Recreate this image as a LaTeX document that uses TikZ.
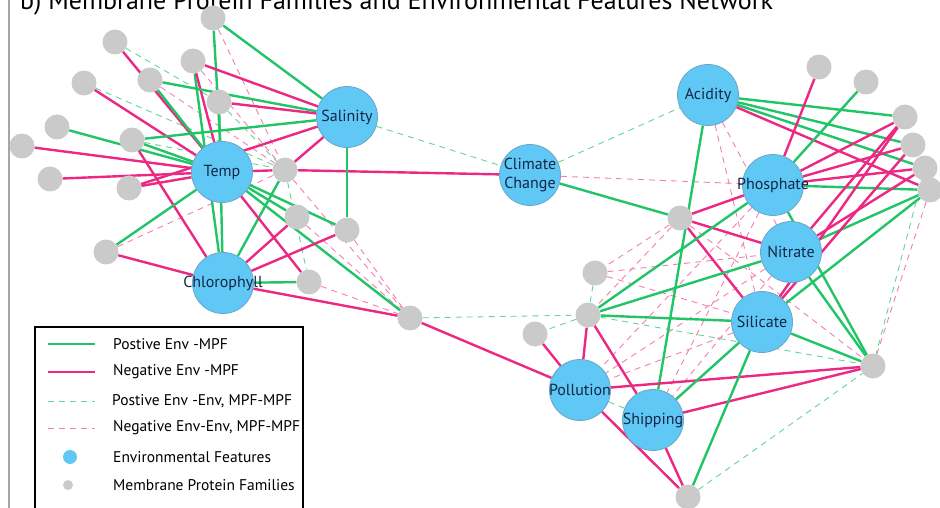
\documentclass[tikz,border=0pt]{standalone}
\usepackage{fontspec}
\setmainfont{PT Sans}
\usetikzlibrary{backgrounds}
\definecolor{posgreen}{RGB}{34,196,104}
\definecolor{negpink}{RGB}{236,40,130}
\definecolor{envblue}{RGB}{95,200,245}
\definecolor{envrim}{RGB}{110,165,200}
\definecolor{mpfgray}{RGB}{202,202,202}
\definecolor{labelnavy}{RGB}{22,38,72}
\tikzset{
  envnode/.style={circle, fill=envblue, draw=envrim, line width=0.8pt, minimum size=61pt, inner sep=0pt},
  envlbl/.style={text=labelnavy, font=\fontsize{16}{20}\selectfont, inner sep=0pt, align=center},
  mpfnode/.style={circle, fill=mpfgray, minimum size=25pt, inner sep=0pt},
  poslink/.style={posgreen, line width=2.4pt},
  neglink/.style={negpink, line width=2.4pt},
  posdash/.style={posgreen!70, line width=0.9pt, dash pattern=on 6pt off 5pt},
  negdash/.style={negpink!60, line width=0.9pt, dash pattern=on 6pt off 5pt},
  legtext/.style={anchor=west, font=\fontsize{15.5}{17}\selectfont, inner sep=0pt}
}
\begin{document}
\begin{tikzpicture}[x=1pt,y=-1pt]
    \useasboundingbox (0,0) rectangle (940,508);

    \node[anchor=base west, font=\fontsize{26}{28}\selectfont, inner sep=0pt] (title) at (20,10) {b) Membrane Protein Families and Environmental Features Network};
    \draw[gray!70, line width=1.5pt] (9,0) -- (9,508);

    \node[envnode, label={[envlbl]center:Salinity}] (sal) at (347,117) {};
    \node[envnode, label={[envlbl]center:Temp}] (temp) at (222,172) {};
    \node[envnode, label={[envlbl]center:Chlorophyll}] (chl) at (223,283) {};
    \node[envnode, label={[envlbl]center:Climate\\Change}] (clim) at (530,175) {};
    \node[envnode, label={[envlbl]center:Acidity}] (acid) at (708,95) {};
    \node[envnode, label={[envlbl]center:Phosphate}] (phos) at (773,185) {};
    \node[envnode, label={[envlbl]center:Nitrate}] (nit) at (791,252) {};
    \node[envnode, label={[envlbl]center:Silicate}] (sil) at (762,322) {};
    \node[envnode, label={[envlbl]center:Pollution}] (poll) at (580,390) {};
    \node[envnode, label={[envlbl]center:Shipping}] (ship) at (653,420) {};

    \node[mpfnode] (m1) at (213,18) {};
    \node[mpfnode] (m2) at (115,42) {};
    \node[mpfnode] (m3) at (193,61) {};
    \node[mpfnode] (m4) at (84,83) {};
    \node[mpfnode] (m5) at (150,80) {};
    \node[mpfnode] (m6) at (219,102) {};
    \node[mpfnode] (m7) at (57,127) {};
    \node[mpfnode] (m8) at (22,146) {};
    \node[mpfnode] (m9) at (132,140) {};
    \node[mpfnode] (m10) at (50,179) {};
    \node[mpfnode] (m11) at (129,188) {};
    \node[mpfnode] (m12) at (285,170) {};
    \node[mpfnode] (m13) at (297,217) {};
    \node[mpfnode] (m14) at (347,230) {};
    \node[mpfnode] (m15) at (106,252) {};
    \node[mpfnode] (m16) at (309,282) {};
    \node[mpfnode] (m17) at (410,318) {};
    \node[mpfnode] (m18) at (819,67) {};
    \node[mpfnode] (m19) at (866,82) {};
    \node[mpfnode] (m20) at (905,117) {};
    \node[mpfnode] (m21) at (913,145) {};
    \node[mpfnode] (m22) at (925,168) {};
    \node[mpfnode] (m23) at (930,190) {};
    \node[mpfnode] (m24) at (680,218) {};
    \node[mpfnode] (m25) at (595,273) {};
    \node[mpfnode] (m26) at (588,315) {};
    \node[mpfnode] (m27) at (535,334) {};
    \node[mpfnode] (m28) at (873,366) {};
    \node[mpfnode] (m29) at (688,497) {};

    \begin{pgfonlayer}{background}
    \fill[white] (0,0) rectangle (940,508);

    \draw[negdash] (m1) -- (m12);
    \draw[negdash] (m3) -- (m12);
    \draw[posdash] (m2) -- (m6);
    \draw[posdash] (m4) -- (m12);
    \draw[negdash] (m5) -- (m12);
    \draw[posdash] (m6) -- (m12);
    \draw[posdash] (m9) -- (m12);
    \draw[negdash] (m15) -- (m12);
    \draw[posdash] (m12) -- (m16);
    \draw[negdash] (m13) -- (m17);
    \draw[negdash] (m16) -- (m17);
    \draw[negdash] (m12) -- (m17);
    \draw[negdash] (m14) -- (m17);
    \draw[posdash] (m17) -- (m26);
    \draw[posdash] (sal) -- (clim);
    \draw[posdash] (clim) -- (acid);
    \draw[negdash] (clim) -- (phos);
    \draw[negdash] (acid) -- (nit);
    \draw[negdash] (acid) -- (sil);
    \draw[negdash] (m24) -- (m26);
    \draw[negdash] (m24) -- (m25);
    \draw[posdash] (m25) -- (m26);
    \draw[posdash] (m26) -- (m27);
    \draw[negdash] (phos) -- (poll);
    \draw[negdash] (nit) -- (poll);
    \draw[negdash] (sil) -- (poll);
    \draw[negdash] (phos) -- (ship);
    \draw[negdash] (nit) -- (ship);
    \draw[negdash] (m25) -- (sil);
    \draw[negdash] (m25) -- (nit);
    \draw[negdash] (m24) -- (m28);
    \draw[posdash] (m26) -- (m28);
    \draw[posdash] (m29) -- (m28);
    \draw[negdash] (m23) -- (m28);
    \draw[posdash] (m22) -- (m28);
    \draw[posdash] (poll) -- (ship);

    \draw[poslink] (m1) -- (temp);
    \draw[poslink] (m1) -- (sal);
    \draw[neglink] (m2) -- (temp);
    \draw[poslink] (m3) -- (chl);
    \draw[neglink] (m3) -- (temp);
    \draw[neglink] (m3) -- (sal);
    \draw[neglink] (m4) -- (temp);
    \draw[poslink] (m5) -- (sal);
    \draw[poslink] (m5) -- (temp);
    \draw[poslink] (m6) -- (chl);
    \draw[neglink] (m6) -- (sal);
    \draw[poslink] (m7) -- (temp);
    \draw[neglink] (m8) -- (temp);
    \draw[poslink] (m9) -- (sal);
    \draw[poslink] (m9) -- (temp);
    \draw[neglink] (m9) -- (chl);
    \draw[neglink] (m10) -- (temp);
    \draw[neglink] (m11) -- (temp);
    \draw[neglink] (m11) -- (sal);
    \draw[neglink] (m12) -- (temp);
    \draw[neglink] (m12) -- (clim);
    \draw[neglink] (m12) -- (sal);
    \draw[poslink] (m12) -- (chl);
    \draw[poslink] (sal) -- (m14);
    \draw[poslink] (temp) -- (m13);
    \draw[poslink] (temp) -- (m14);
    \draw[poslink] (temp) -- (m17);
    \draw[neglink] (temp) -- (m16);
    \draw[neglink] (m13) -- (chl);
    \draw[neglink] (m14) -- (chl);
    \draw[poslink] (m16) -- (chl);
    \draw[neglink] (chl) -- (m17);
    \draw[poslink] (m15) -- (temp);
    \draw[neglink] (m15) -- (chl);
    \draw[neglink] (m17) -- (poll);

    \draw[poslink] (clim) -- (m24);
    \draw[poslink] (acid) -- (ship);
    \draw[poslink] (acid) -- (m20);
    \draw[poslink] (acid) -- (m21);
    \draw[poslink] (acid) -- (m22);
    \draw[neglink] (acid) -- (m23);
    \draw[neglink] (m18) -- (phos);
    \draw[poslink] (m19) -- (phos);
    \draw[neglink] (phos) -- (m20);
    \draw[neglink] (phos) -- (m21);
    \draw[neglink] (phos) -- (m22);
    \draw[poslink] (phos) -- (m23);
    \draw[neglink] (m24) -- (phos);
    \draw[neglink] (m24) -- (nit);
    \draw[neglink] (m24) -- (sil);
    \draw[neglink] (nit) -- (m20);
    \draw[neglink] (nit) -- (m22);
    \draw[poslink] (nit) -- (m23);
    \draw[neglink] (sil) -- (m20);
    \draw[neglink] (sil) -- (m21);
    \draw[poslink] (sil) -- (m23);
    \draw[poslink] (phos) -- (m28);
    \draw[poslink] (nit) -- (m28);
    \draw[poslink] (sil) -- (m28);
    \draw[neglink] (m28) -- (poll);
    \draw[neglink] (m28) -- (ship);
    \draw[poslink] (m26) -- (phos);
    \draw[poslink] (m26) -- (nit);
    \draw[poslink] (m26) -- (sil);
    \draw[neglink] (m26) -- (poll);
    \draw[neglink] (m26) -- (ship);
    \draw[neglink] (m27) -- (poll);
    \draw[poslink] (sil) -- (ship);
    \draw[poslink] (sil) -- (m29);
    \draw[neglink] (poll) -- (m29);
    \draw[neglink] (ship) -- (m29);
    \end{pgfonlayer}

    \draw[line width=1.6pt] (35,327) rectangle (303,530);
    \draw[poslink] (48,344) -- (95,344);
    \draw[neglink] (48,372) -- (95,372);
    \draw[posdash] (48,401) -- (95,401);
    \draw[negdash] (48,428) -- (95,428);
    \fill[envblue] (70,457) circle (7);
    \fill[mpfgray] (68,485) circle (5);
    \node[legtext] (l1) at (113,344) {Postive Env -MPF};
    \node[legtext] (l2) at (113,372) {Negative Env -MPF};
    \node[legtext] (l3) at (112,401) {Postive Env -Env, MPF-MPF};
    \node[legtext] (l4) at (113,428) {Negative Env-Env, MPF-MPF};
    \node[legtext] (l5) at (113,457) {Environmental Features};
    \node[legtext] (l6) at (113,485) {Membrane Protein Families};
\end{tikzpicture}
\end{document}
